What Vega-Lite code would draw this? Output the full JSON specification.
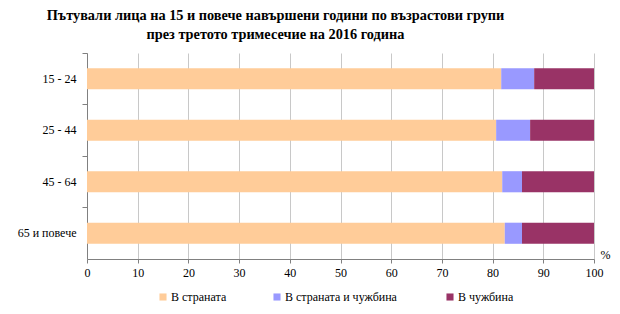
{
  "$schema": "https://vega.github.io/schema/vega-lite/v6.json",
  "autosize": "none",
  "width": 507,
  "height": 206,
  "padding": {"left": 87, "top": 53, "right": 26, "bottom": 55},
  "background": "white",
  "title": {
    "text": ["Пътували лица на 15 и повече навършени години по възрастови групи", "през третото тримесечие на 2016 година"],
    "font": "Times New Roman, Liberation Serif, serif",
    "fontSize": 14.3,
    "fontWeight": "bold",
    "color": "black",
    "lineHeight": 19,
    "anchor": "middle",
    "dx": -65,
    "offset": 10
  },
  "data": {
    "values": [
      {"group": "15 - 24", "type": "В страната", "ord": 1, "value": 81.7},
      {"group": "15 - 24", "type": "В страната  и чужбина", "ord": 2, "value": 6.5},
      {"group": "15 - 24", "type": "В чужбина", "ord": 3, "value": 11.8},
      {"group": "25 - 44", "type": "В страната", "ord": 1, "value": 80.7},
      {"group": "25 - 44", "type": "В страната  и чужбина", "ord": 2, "value": 6.7},
      {"group": "25 - 44", "type": "В чужбина", "ord": 3, "value": 12.6},
      {"group": "45 - 64", "type": "В страната", "ord": 1, "value": 81.9},
      {"group": "45 - 64", "type": "В страната  и чужбина", "ord": 2, "value": 3.9},
      {"group": "45 - 64", "type": "В чужбина", "ord": 3, "value": 14.2},
      {"group": "65 и повече", "type": "В страната", "ord": 1, "value": 82.4},
      {"group": "65 и повече", "type": "В страната  и чужбина", "ord": 2, "value": 3.4},
      {"group": "65 и повече", "type": "В чужбина", "ord": 3, "value": 14.2}
    ]
  },
  "mark": {"type": "bar", "height": {"band": 0.41}},
  "encoding": {
    "y": {
      "field": "group",
      "type": "nominal",
      "sort": ["15 - 24", "25 - 44", "45 - 64", "65 и повече"],
      "scale": {"paddingInner": 0, "paddingOuter": 0},
      "axis": {
        "title": null,
        "bandPosition": 0,
        "labelFont": "Times New Roman, Liberation Serif, serif",
        "labelFontSize": 12,
        "labelColor": "black",
        "labelPadding": 6,
        "tickSize": 5,
        "tickColor": "#808080",
        "domainColor": "#808080",
        "grid": false
      }
    },
    "x": {
      "field": "value",
      "type": "quantitative",
      "stack": "zero",
      "scale": {"domain": [0, 100], "nice": false},
      "axis": {
        "values": [0, 10, 20, 30, 40, 50, 60, 70, 80, 90, 100],
        "title": "%",
        "titleFont": "Times New Roman, Liberation Serif, serif",
        "titleFontSize": 12,
        "titleFontWeight": "normal",
        "titleColor": "black",
        "titleX": 518,
        "titleY": -1,
        "titleAlign": "center",
        "titleBaseline": "alphabetic",
        "labelFont": "Times New Roman, Liberation Serif, serif",
        "labelFontSize": 12,
        "labelColor": "black",
        "labelPadding": 4,
        "tickSize": 4,
        "tickColor": "#808080",
        "domainColor": "#808080",
        "grid": true,
        "gridColor": "#c8c8c8",
        "labelFlush": false
      }
    },
    "color": {
      "field": "type",
      "type": "nominal",
      "scale": {
        "domain": ["В страната", "В страната  и чужбина", "В чужбина"],
        "range": ["#FFCC99", "#9999FF", "#993366"]
      },
      "legend": {
        "title": null,
        "orient": "none",
        "direction": "horizontal",
        "legendX": 70,
        "legendY": 238,
        "symbolType": "square",
        "symbolSize": 50,
        "symbolStrokeWidth": 0,
        "labelFont": "Times New Roman, Liberation Serif, serif",
        "labelFontSize": 12,
        "labelColor": "black",
        "labelOffset": 2,
        "columnPadding": 44
      }
    },
    "order": {"field": "ord", "type": "quantitative"}
  },
  "config": {"view": {"stroke": null}}
}
